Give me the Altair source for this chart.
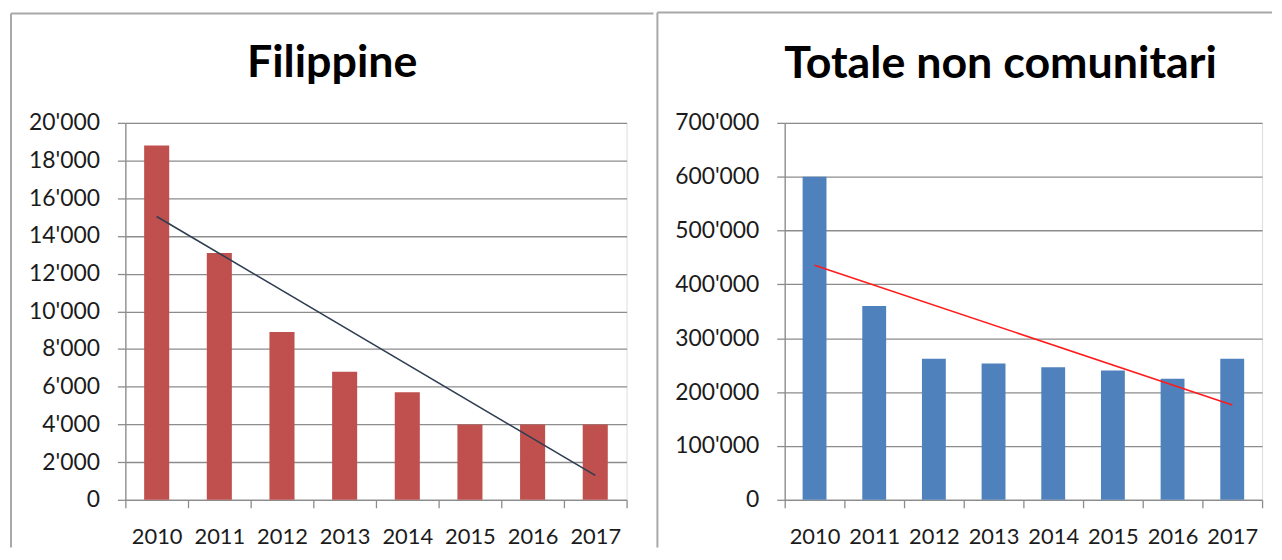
import altair as alt
import pandas as pd

# ---- data ----
years = [2010, 2011, 2012, 2013, 2014, 2015, 2016, 2017]
filippine = [18800, 13100, 8900, 6800, 5700, 4000, 4000, 4000]
non_comunitari = [600000, 360000, 262000, 253000, 246000, 240000, 225000, 262000]

titles = ["Filippine", "Totale non comunitari"]
bar_colors = ["#C0504D", "#4F81BD"]
trend_colors = ["#2E3D52", "#FF1A1A"]

FONT = "Lato"
GRID = "#8c8c8c"
BORDER = "#a8a8a8"
LABEL = "#1b1b1b"
label_expr = "replace(format(datum.value, ','), regexp(',', 'g'), \"'\")"


def panel(values, title, color, tcolor, ymax, ystep, width, height,
          title_x, title_y, vline_x, top_y, top_x2, bottom_y):
    df = pd.DataFrame({"year": years, "value": values})
    ticks = list(range(0, ymax + 1, ystep))
    xenc = alt.X(
        "year:O", title=None,
        scale=alt.Scale(paddingInner=0, paddingOuter=0),
        axis=alt.Axis(tickBand="extent", labelAngle=0, labelFont=FONT,
                      labelFontSize=22, labelColor=LABEL, labelPadding=19,
                      labelOverlap=False,
                      tickSize=8, tickColor=GRID, tickWidth=1.3,
                      domainColor=GRID, domainWidth=1.3, grid=False),
    )
    yenc = alt.Y(
        "value:Q", title=None,
        scale=alt.Scale(domain=[0, ymax], nice=False),
        axis=alt.Axis(values=ticks, tickCount=len(ticks), labelExpr=label_expr,
                      labelFont=FONT, labelFontSize=23, labelColor=LABEL,
                      labelOverlap=False, labelFlush=False,
                      labelPadding=18, tickSize=8, tickColor=GRID, tickWidth=1.3,
                      domainColor=GRID, domainWidth=1.3, grid=True,
                      gridColor=GRID, gridWidth=1.3),
    )
    base = alt.Chart(df)
    bars = base.mark_bar(color=color, width=alt.RelativeBandSize(0.4)).encode(x=xenc, y=yenc)
    trend = base.transform_regression("year", "value").mark_line(
        color=tcolor, strokeWidth=1.6).encode(x="year:O", y="value:Q")

    deco = alt.Chart(pd.DataFrame({"k": [0]}))
    vline = deco.mark_rule(color=BORDER, strokeWidth=2).encode(
        x=alt.value(vline_x), y=alt.value(top_y), y2=alt.value(bottom_y))
    hline = deco.mark_rule(color=BORDER, strokeWidth=2).encode(
        x=alt.value(vline_x), x2=alt.value(top_x2), y=alt.value(top_y))

    ttl = alt.Chart(pd.DataFrame({"t": [title]})).mark_text(
        font=FONT, fontSize=45, fontWeight="bold", color="black",
        align="center", baseline="alphabetic").encode(
        text="t:N", x=alt.value(title_x), y=alt.value(title_y))

    return alt.layer(bars, trend, vline, hline, ttl).properties(
        width=width, height=height)


left = panel(filippine, titles[0], bar_colors[0], trend_colors[0],
             20000, 2000, 504, 379, 208, -46, -115, -110, 531, 427)
right = panel(non_comunitari, titles[1], bar_colors[1], trend_colors[1],
              700000, 100000, 480, 379, 217, -45, -128, -111, 490, 427)

chart = alt.hconcat(left, right, spacing=0).properties(
    padding={"left": 1, "top": 1, "right": 0, "bottom": 0}
).configure_view(stroke=None).configure(background="white")

chart.save("out.html", embed_options={"renderer": "svg", "actions": False})
